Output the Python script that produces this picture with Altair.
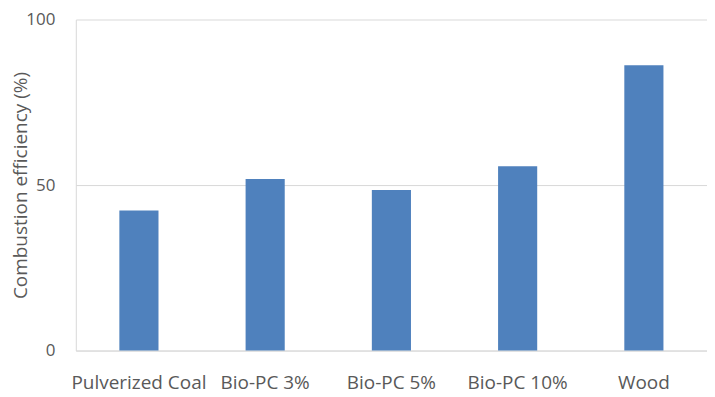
import altair as alt
import pandas as pd

categories = ["Pulverized Coal", "Bio-PC 3%", "Bio-PC 5%", "Bio-PC 10%", "Wood"]
values = [42.3, 51.8, 48.5, 55.7, 86.2]

df = pd.DataFrame({"cat": categories, "val": values})

font = "Open Sans"
grey = "#595959"

chart = alt.Chart(df).mark_bar(color="#4F81BD").encode(
    x=alt.X("cat:N", sort=categories,
            scale=alt.Scale(paddingInner=0.69, paddingOuter=0.345),
            axis=alt.Axis(title=None, labelAngle=0, labelFontSize=19, labelColor=grey,
                          labelFont=font, ticks=False, domainColor="#D9D9D9",
                          labelPadding=38, grid=False, labelBaseline="alphabetic")),
    y=alt.Y("val:Q", scale=alt.Scale(domain=[0, 100]),
            axis=alt.Axis(title="Combustion efficiency (%)", values=[0, 50, 100],
                          titleFontSize=19, titleFont=font, titleColor=grey,
                          titleFontWeight="normal", titleAngle=270,
                          titleX=-55, titleY=166, titleAlign="center",
                          titleBaseline="middle",
                          labelFontSize=17, labelColor=grey, labelFont=font,
                          labelAlign="right",
                          ticks=False, domain=True, domainColor="#D9D9D9",
                          gridColor="#D9D9D9", labelPadding=21)),
).properties(
    width=633, height=332,
    autosize=alt.AutoSizeParams(type="none"),
    padding={"left": 68, "top": 11, "right": 0, "bottom": 45},
).configure_view(stroke=None)

chart.save("out.html", embed_options={"renderer": "svg", "actions": False})
